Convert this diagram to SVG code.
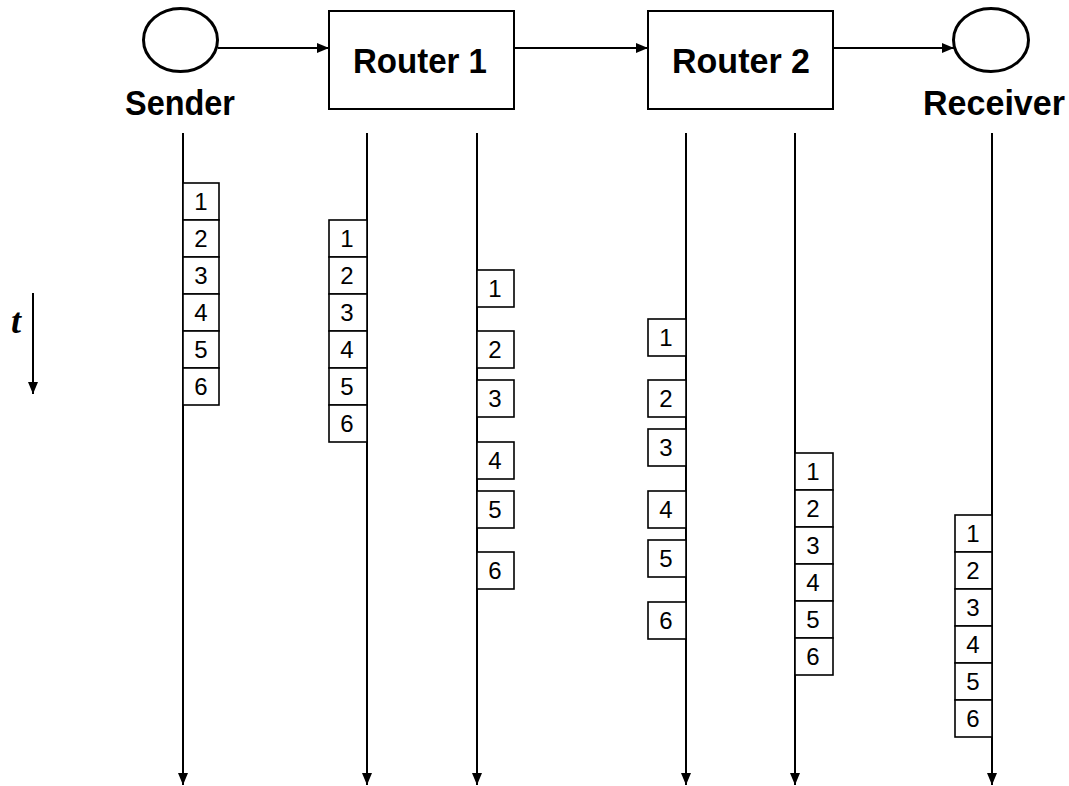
<svg xmlns="http://www.w3.org/2000/svg" width="1069" height="786" viewBox="0 0 1069 786">
  <style>
    .shape { fill: #fff; stroke: #000; stroke-width: 2; }
    .node-end { fill: #fff; stroke: #000; stroke-width: 3; }
    .line { fill: none; stroke: #000; stroke-width: 2; }
    .label { font-family: "Liberation Sans", Arial, sans-serif; font-weight: bold; font-size: 35px; fill: #000; text-anchor: middle; }
    .pkt rect { fill: #fff; stroke: #000; stroke-width: 1.6; }
    .pkt text { font-family: "Liberation Sans", Arial, sans-serif; font-size: 24px; fill: #000; text-anchor: middle; }
  </style>
  <defs>
    <marker id="arrow" viewBox="0 0 12 12" refX="12" refY="6" markerWidth="12" markerHeight="12" markerUnits="userSpaceOnUse" orient="auto">
      <path d="M0,1 L12,6 L0,11 Z" fill="#000"/>
    </marker>
  </defs>
  <rect width="1069" height="786" fill="#fff"/>

  <!-- endpoints and routers -->
  <g id="sender">
    <ellipse class="node-end" cx="180.5" cy="40" rx="37" ry="31.5"/>
    <text class="label" x="180" y="115" textLength="110" lengthAdjust="spacingAndGlyphs">Sender</text>
  </g>
  <g id="router1">
    <rect class="shape" x="329" y="11" width="185" height="98"/>
    <text class="label" x="420" y="73" textLength="134" lengthAdjust="spacingAndGlyphs">Router 1</text>
  </g>
  <g id="router2">
    <rect class="shape" x="648" y="11" width="185" height="98"/>
    <text class="label" x="741" y="73" textLength="138" lengthAdjust="spacingAndGlyphs">Router 2</text>
  </g>
  <g id="receiver">
    <ellipse class="node-end" cx="991" cy="40" rx="37.5" ry="31.5"/>
    <text class="label" x="994" y="115" textLength="142" lengthAdjust="spacingAndGlyphs">Receiver</text>
  </g>

  <!-- links between the nodes -->
  <g id="connectors">
    <line class="line" x1="218" y1="48" x2="329" y2="48" marker-end="url(#arrow)"/>
    <line class="line" x1="514" y1="48" x2="648" y2="48" marker-end="url(#arrow)"/>
    <line class="line" x1="833" y1="48" x2="954" y2="48" marker-end="url(#arrow)"/>
  </g>

  <!-- time axis legend -->
  <g id="time-axis">
    <line class="line" x1="33" y1="293" x2="33" y2="394" marker-end="url(#arrow)"/>
    <text x="11" y="333" font-family="'Liberation Serif', 'Times New Roman', serif" font-weight="bold" font-style="italic" font-size="36" fill="#000">t</text>
  </g>

  <!-- timelines -->
  <g id="timelines">
    <line class="line" x1="183" y1="133" x2="183" y2="785" marker-end="url(#arrow)"/>
    <line class="line" x1="367" y1="133" x2="367" y2="785" marker-end="url(#arrow)"/>
    <line class="line" x1="477" y1="133" x2="477" y2="785" marker-end="url(#arrow)"/>
    <line class="line" x1="686" y1="133" x2="686" y2="785" marker-end="url(#arrow)"/>
    <line class="line" x1="795" y1="133" x2="795" y2="785" marker-end="url(#arrow)"/>
    <line class="line" x1="992" y1="133" x2="992" y2="785" marker-end="url(#arrow)"/>
  </g>

  <!-- packets at the sender -->
  <g id="packets-sender" class="pkt">
    <rect x="183" y="183" width="36" height="37"/><text x="201" y="210">1</text>
    <rect x="183" y="220" width="36" height="37"/><text x="201" y="247">2</text>
    <rect x="183" y="257" width="36" height="37"/><text x="201" y="284">3</text>
    <rect x="183" y="294" width="36" height="37"/><text x="201" y="321">4</text>
    <rect x="183" y="331" width="36" height="37"/><text x="201" y="358">5</text>
    <rect x="183" y="368" width="36" height="37"/><text x="201" y="395">6</text>
  </g>

  <!-- packets arriving at router 1 -->
  <g id="packets-router1-in" class="pkt">
    <rect x="329" y="220" width="38" height="37"/><text x="347" y="247">1</text>
    <rect x="329" y="257" width="38" height="37"/><text x="347" y="284">2</text>
    <rect x="329" y="294" width="38" height="37"/><text x="347" y="321">3</text>
    <rect x="329" y="331" width="38" height="37"/><text x="347" y="358">4</text>
    <rect x="329" y="368" width="38" height="37"/><text x="347" y="395">5</text>
    <rect x="329" y="405" width="38" height="37"/><text x="347" y="432">6</text>
  </g>

  <!-- packets leaving router 1 -->
  <g id="packets-router1-out" class="pkt">
    <rect x="477" y="270" width="37" height="37"/><text x="495" y="297">1</text>
    <rect x="477" y="331" width="37" height="37"/><text x="495" y="358">2</text>
    <rect x="477" y="380" width="37" height="37"/><text x="495" y="407">3</text>
    <rect x="477" y="442" width="37" height="37"/><text x="495" y="469">4</text>
    <rect x="477" y="491" width="37" height="37"/><text x="495" y="518">5</text>
    <rect x="477" y="552" width="37" height="37"/><text x="495" y="579">6</text>
  </g>

  <!-- packets arriving at router 2 -->
  <g id="packets-router2-in" class="pkt">
    <rect x="648" y="319" width="38" height="37"/><text x="666" y="346">1</text>
    <rect x="648" y="380" width="38" height="37"/><text x="666" y="407">2</text>
    <rect x="648" y="429" width="38" height="37"/><text x="666" y="456">3</text>
    <rect x="648" y="491" width="38" height="37"/><text x="666" y="518">4</text>
    <rect x="648" y="540" width="38" height="37"/><text x="666" y="567">5</text>
    <rect x="648" y="602" width="38" height="37"/><text x="666" y="629">6</text>
  </g>

  <!-- packets leaving router 2 -->
  <g id="packets-router2-out" class="pkt">
    <rect x="795" y="453" width="38" height="37"/><text x="813" y="480">1</text>
    <rect x="795" y="490" width="38" height="37"/><text x="813" y="517">2</text>
    <rect x="795" y="527" width="38" height="37"/><text x="813" y="554">3</text>
    <rect x="795" y="564" width="38" height="37"/><text x="813" y="591">4</text>
    <rect x="795" y="601" width="38" height="37"/><text x="813" y="628">5</text>
    <rect x="795" y="638" width="38" height="37"/><text x="813" y="665">6</text>
  </g>

  <!-- packets at the receiver -->
  <g id="packets-receiver" class="pkt">
    <rect x="955" y="515" width="37" height="37"/><text x="973" y="542">1</text>
    <rect x="955" y="552" width="37" height="37"/><text x="973" y="579">2</text>
    <rect x="955" y="589" width="37" height="37"/><text x="973" y="616">3</text>
    <rect x="955" y="626" width="37" height="37"/><text x="973" y="653">4</text>
    <rect x="955" y="663" width="37" height="37"/><text x="973" y="690">5</text>
    <rect x="955" y="700" width="37" height="37"/><text x="973" y="727">6</text>
  </g>
</svg>
